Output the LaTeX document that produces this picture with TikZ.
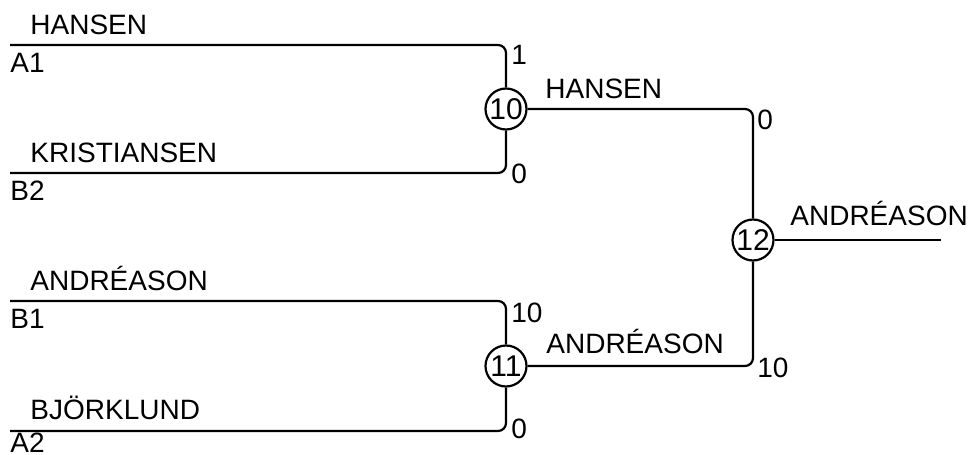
\documentclass[tikz,border=0pt]{standalone}
\usepackage{fontspec}
\setmainfont{Liberation Sans}
\begin{document}
\begin{tikzpicture}[x=0.5pt,y=-0.5pt,
  txt/.style={anchor=base west,inner sep=0pt,font=\fontsize{14}{16}\selectfont},
  circ/.style={circle,draw,line width=1.1pt,minimum size=20.5pt,inner sep=0pt,font=\fontsize{15}{17}\selectfont},
  conn/.style={line width=1.1pt,rounded corners=4pt}]
\useasboundingbox (0,0) rectangle (970,455);
% match nodes
\node[circ] (m10) at (506,109) {10};
\node[circ] (m11) at (506,366) {11};
\node[circ] (m12) at (753,240) {12};
% free ends
\coordinate (a1) at (10,45);
\coordinate (b2) at (10,173);
\coordinate (b1) at (10,301);
\coordinate (a2) at (10,431);
\coordinate (fin) at (941,240);
% connectors
\draw[conn] (a1) -| (m10);
\draw[conn] (b2) -| (m10);
\draw[conn] (b1) -| (m11);
\draw[conn] (a2) -| (m11);
\draw[conn] (m10) -| (m12);
\draw[conn] (m11) -| (m12);
\draw[conn] (m12) -- (fin);
% team names
\node[txt] (t1) at (30,34) {HANSEN};
\node[txt] (s1) at (10,72) {A1};
\node[txt] (t2) at (30,162) {KRISTIANSEN};
\node[txt] (s2) at (10,200) {B2};
\node[txt] (t3) at (30,290) {ANDRÉASON};
\node[txt] (s3) at (10,328) {B1};
\node[txt] (t4) at (30,419) {BJÖRKLUND};
\node[txt] (s4) at (10,452) {A2};
% winners
\node[txt] (w10) at (545,98) {HANSEN};
\node[txt] (w11) at (546,353) {ANDRÉASON};
\node[txt] (w12) at (790,225) {ANDRÉASON};
% scores
\node[txt] (r1) at (511,64) {1};
\node[txt] (r2) at (511,183) {0};
\node[txt] (r3) at (511,322) {10};
\node[txt] (r4) at (511,438) {0};
\node[txt] (r5) at (757,129) {0};
\node[txt] (r6) at (757,377) {10};
\end{tikzpicture}
\end{document}
